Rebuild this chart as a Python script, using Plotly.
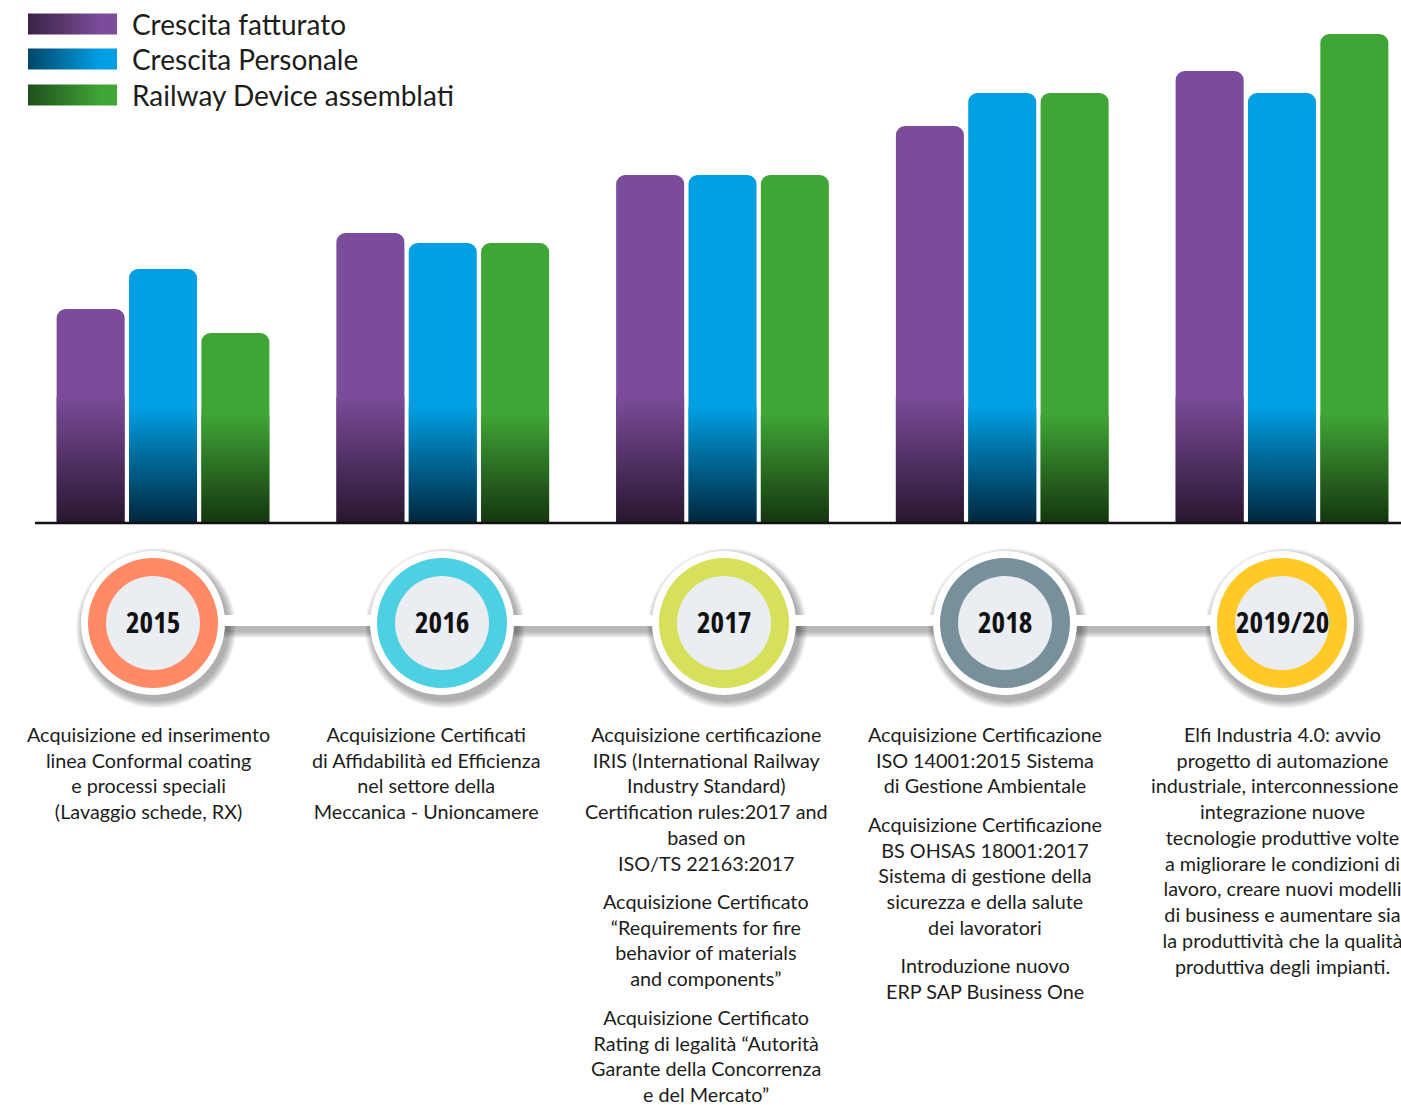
import plotly.graph_objects as go

# ---------------- data ----------------
years = ["2015", "2016", "2017", "2018", "2019/20"]
series_names = ["Crescita fatturato", "Crescita Personale", "Railway Device assemblati"]
fatturato = [214, 290, 348, 397, 452]
personale = [254, 280, 348, 430, 430]
railway = [190, 280, 348, 430, 489]

milestones_2015 = [["Acquisizione ed inserimento", "linea Conformal coating",
                    "e processi speciali", "(Lavaggio schede, RX)"]]
milestones_2016 = [["Acquisizione Certificati", "di Affidabilità ed Efficienza",
                    "nel settore della", "Meccanica - Unioncamere"]]
milestones_2017 = [["Acquisizione certificazione", "IRIS (International Railway",
                    "Industry Standard)", "Certification rules:2017 and",
                    "based on", "ISO/TS 22163:2017"],
                   ["Acquisizione Certificato", "“Requirements for fire",
                    "behavior of materials", "and components”"],
                   ["Acquisizione Certificato", "Rating di legalità “Autorità",
                    "Garante della Concorrenza", "e del Mercato”"]]
milestones_2018 = [["Acquisizione Certificazione", "ISO 14001:2015 Sistema",
                    "di Gestione Ambientale"],
                   ["Acquisizione Certificazione", "BS OHSAS 18001:2017",
                    "Sistema di gestione della", "sicurezza e della salute",
                    "dei lavoratori"],
                   ["Introduzione nuovo", "ERP SAP Business One"]]
milestones_2019 = [["Elfi Industria 4.0: avvio", "progetto di automazione",
                    "industriale, interconnessione e", "integrazione nuove",
                    "tecnologie produttive volte", "a migliorare le condizioni di",
                    "lavoro, creare nuovi modelli", "di business e aumentare sia",
                    "la produttività che la qualità", "produttiva degli impianti."]]
milestones = [milestones_2015, milestones_2016, milestones_2017, milestones_2018, milestones_2019]

# ---------------- style ----------------
W, H = 1401, 1105
BASE_PX = 523
bar_colors = ["#7b4c9a", "#009fe3", "#3fa535"]
bar_darks = ["#28162f", "#00263c", "#15350f"]
band_heights = [126, 116, 108]
legend_darks = ["#3a2346", "#00466b", "#1f4f1c"]
ring_colors = ["#ff8a65", "#4dd0e1", "#d6e05a", "#78909c", "#ffca28"]
inner_color = "#eaedf2"
text_color = "#1d1d1b"
TEXT_FONT = "Lato, 'Open Sans', sans-serif"
YEAR_FONT = "'Open Sans', sans-serif"

bargap = 0.224
bargroupgap = 0.06
px_first, px_step = 163, 279.75
x_range = [-px_first / px_step, (W - px_first) / px_step]

circle_cx = [153, 442, 724, 1005, 1282]
circle_cy = 623
text_cx = [148, 426, 706, 985, 1282]
R_OUT, R_RING, R_IN = 72, 65, 47
LINE_H = 25.8
PARA_GAP = 12.5
TEXT_TOP = 720

values = [fatturato, personale, railway]
fig = go.Figure()
xs = list(range(len(years)))

# bars
for k, (name, vals) in enumerate(zip(series_names, values)):
    fig.add_trace(go.Bar(
        x=xs, y=vals, name=name,
        marker=dict(color=bar_colors[k], line=dict(width=0), cornerradius=9),
        hoverinfo="skip", showlegend=False,
    ))

# dark gradient at bar bottoms
n = len(series_names)
group_w = 1 - bargap
slot = group_w / n
bw = slot * (1 - bargroupgap)
for k, vals in enumerate(values):
    for i, v in enumerate(vals):
        c = i - group_w / 2 + slot * (k + 0.5)
        top = min(v, band_heights[k])
        fig.add_trace(go.Scatter(
            x=[c - bw / 2, c + bw / 2, c + bw / 2, c - bw / 2, c - bw / 2],
            y=[0, 0, top, top, 0],
            mode="lines", line=dict(width=0), fill="toself",
            fillgradient=dict(type="vertical", start=0, stop=band_heights[k],
                              colorscale=[[0, bar_darks[k]], [1, bar_colors[k]]]),
            hoverinfo="skip", showlegend=False,
        ))

# legend swatches (pixel-coordinate overlay axes)
leg_y = [24, 59, 95]
for k in range(n):
    y0, y1 = leg_y[k] - 10.5, leg_y[k] + 10.5
    fig.add_trace(go.Scatter(
        x=[28, 117, 117, 28, 28], y=[y0, y0, y1, y1, y0],
        xaxis="x2", yaxis="y2",
        mode="lines", line=dict(width=0), fill="toself",
        fillgradient=dict(type="horizontal", start=28, stop=100,
                          colorscale=[[0, legend_darks[k]], [1, bar_colors[k]]]),
        hoverinfo="skip", showlegend=False,
    ))

annotations = []
for k in range(n):
    annotations.append(dict(
        x=130, y=leg_y[k], xref="x2", yref="y2", xanchor="left", yanchor="middle",
        text=series_names[k], showarrow=False,
        font=dict(family=TEXT_FONT, size=28, color=text_color)))

shapes = []
# baseline
shapes.append(dict(type="line", xref="x2", yref="y2", x0=35, x1=W, y0=BASE_PX, y1=BASE_PX,
                   line=dict(color="#111111", width=2.5)))

# timeline shadows
for s in range(1, 8):
    shapes.append(dict(type="rect", xref="x2", yref="y2",
                       x0=circle_cx[0], x1=circle_cx[-1],
                       y0=615 + 5 - s * 0.6, y1=626 + 5 + s,
                       fillcolor="rgba(0,0,0,0.045)", line=dict(width=0)))
for cx in circle_cx:
    for s in range(1, 9):
        r = R_OUT + s
        shapes.append(dict(type="circle", xref="x2", yref="y2",
                           x0=cx + 3 - r, x1=cx + 3 + r,
                           y0=circle_cy + 5 - r, y1=circle_cy + 5 + r,
                           fillcolor="rgba(0,0,0,0.045)", line=dict(width=0)))
# timeline band and year badges
shapes.append(dict(type="rect", xref="x2", yref="y2",
                   x0=circle_cx[0], x1=circle_cx[-1], y0=615, y1=626,
                   fillcolor="white", line=dict(width=0)))
for i, cx in enumerate(circle_cx):
    for r, col in [(R_OUT, "white"), (R_RING, ring_colors[i]), (R_IN, inner_color)]:
        shapes.append(dict(type="circle", xref="x2", yref="y2",
                           x0=cx - r, x1=cx + r, y0=circle_cy - r, y1=circle_cy + r,
                           fillcolor=col, line=dict(width=0)))
    annotations.append(dict(
        x=cx, y=circle_cy - 2, xref="x2", yref="y2", xanchor="center", yanchor="middle",
        text="<b><span style='font-stretch:75%'>" + years[i] + "</span></b>",
        showarrow=False,
        font=dict(family=YEAR_FONT, size=29, color="#111111")))

# milestone texts
for i, paras in enumerate(milestones):
    y = TEXT_TOP
    for p in paras:
        annotations.append(dict(
            x=text_cx[i], y=y, xref="x2", yref="y2", xanchor="center", yanchor="top",
            text="<br>".join(p), showarrow=False, align="center",
            font=dict(family=TEXT_FONT, size=19.8, color=text_color)))
        y += len(p) * LINE_H + PARA_GAP

fig.update_layout(
    width=W, height=H,
    margin=dict(l=0, r=0, t=0, b=0),
    paper_bgcolor="white", plot_bgcolor="rgba(0,0,0,0)",
    barmode="group", bargap=bargap, bargroupgap=bargroupgap,
    xaxis=dict(range=x_range, visible=False, domain=[0, 1]),
    yaxis=dict(range=[0, BASE_PX], visible=False, domain=[1 - BASE_PX / H, 1]),
    xaxis2=dict(range=[0, W], visible=False, domain=[0, 1], anchor="y2"),
    yaxis2=dict(range=[H, 0], visible=False, domain=[0, 1], anchor="x2"),
    shapes=shapes, annotations=annotations,
    showlegend=False,
)

fig.write_html("out.html", config={"displayModeBar": False},
               post_script="document.body.style.margin='0';document.body.style.overflow='hidden';")
